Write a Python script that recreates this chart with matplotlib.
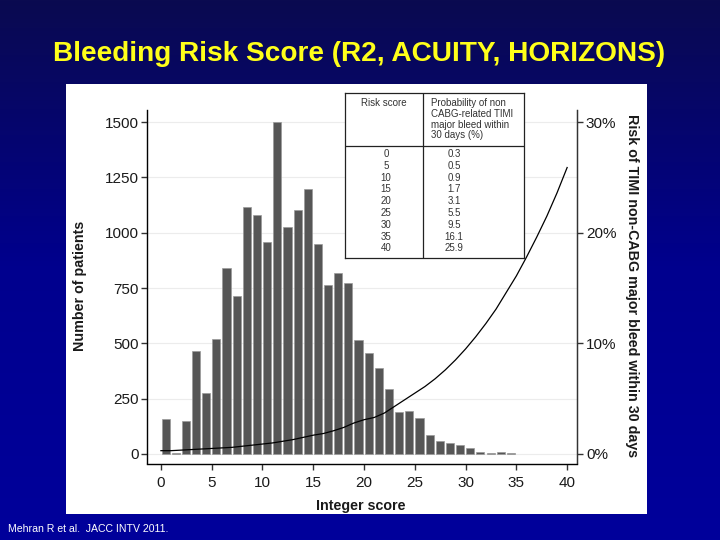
import numpy as np
import matplotlib
matplotlib.use("Agg")
import matplotlib.pyplot as plt
from matplotlib.patches import Rectangle

plt.rcParams['font.family'] = ['Liberation Sans', 'DejaVu Sans']

# ---- data ----
scores = list(range(35))
patients = [158, 6, 147, 467, 274, 520, 841, 713, 1117, 1079,
            957, 1500, 1024, 1103, 1199, 948, 765, 820, 775, 515,
            455, 389, 293, 190, 193, 162, 88, 58, 49, 40,
            28, 8, 4, 7, 4]

curve_x = list(range(41))
curve_risk = [0.3, 0.3, 0.35, 0.4, 0.45, 0.5, 0.55, 0.6, 0.7, 0.8,
              0.9, 1.0, 1.15, 1.3, 1.5, 1.7, 1.85, 2.1, 2.4, 2.8,
              3.1, 3.3, 3.7, 4.3, 4.9, 5.5, 6.1, 6.8, 7.6, 8.5,
              9.5, 10.6, 11.8, 13.1, 14.6, 16.1, 17.8, 19.6, 21.5, 23.6, 25.9]

table_scores = ['0', '5', '10', '15', '20', '25', '30', '35', '40']
table_prob = ['0.3', '0.5', '0.9', '1.7', '3.1', '5.5', '9.5', '16.1', '25.9']

W, H = 720, 540
def fx(x):
    return x / W
def fy(y):
    return 1 - y / H

fig = plt.figure(figsize=(7.2, 5.4), dpi=100)

# background gradient (dark navy at top -> brighter blue lower)
bg = fig.add_axes([0, 0, 1, 1], zorder=-10)
t = np.linspace(0, 1, 256)[:, None]
top = np.array([10, 10, 80]) / 255
mid = np.array([0, 0, 142]) / 255
bot = np.array([0, 0, 155]) / 255
grad = np.where(t < 0.5,
                top + (mid - top) * np.clip(t / 0.5, 0, 1),
                mid + (bot - mid) * np.clip((t - 0.5) / 0.5, 0, 1))
bg.imshow(grad.reshape(256, 1, 3), aspect='auto', extent=[0, 1, 0, 1])
bg.axis('off')

# white panel
fig.patches.append(Rectangle((fx(66), fy(514)), (647 - 66) / W, (514 - 84) / H,
                             transform=fig.transFigure, facecolor='white',
                             edgecolor='none', zorder=-5))

fig.text(fx(359.5), fy(61), 'Bleeding Risk Score (R2, ACUITY, HORIZONS)',
         color='#ffff1a', fontsize=20.2, fontweight='bold', ha='center', va='baseline')
fig.text(fx(8), fy(532), 'Mehran R et al.  JACC INTV 2011.', color='white',
         fontsize=7.6, ha='left', va='baseline')

# main axes
left, right, bottom, topy = 146.7, 577.3, 463.5, 110
ax = fig.add_axes([fx(left), fy(bottom), (right - left) / W, (bottom - topy) / H])
ax.set_facecolor('none')
ax.bar([s + 0.06 for s in scores], patients, width=0.8, align='edge',
       color='#565656', edgecolor='#9a9a9a', linewidth=0.5, zorder=2)
ax.set_xlim(-1.4, 41.0)
ax.set_ylim(-43, 1555)
ax.set_xticks(range(0, 41, 5))
ax.set_yticks([0, 250, 500, 750, 1000, 1250, 1500])
ax.yaxis.grid(True, color='#ececec', linewidth=0.8, zorder=0)
ax.set_axisbelow(True)
for side in ['left', 'bottom', 'right']:
    ax.spines[side].set_color('#333333')
    ax.spines[side].set_linewidth(1.0)
ax.spines['top'].set_visible(False)
ax.tick_params(axis='both', colors='#333333', labelcolor='#1a1a1a', length=4.2,
               width=1.0, labelsize=11)
ax.tick_params(axis='y', pad=1.5)
ax.tick_params(axis='x', pad=5)

ax2 = ax.twinx()
ax2.set_ylim(-43 / 50, 1555 / 50)
ax2.plot(curve_x, curve_risk, color='black', linewidth=0.9, zorder=3)
ax2.set_yticks([0, 10, 20, 30])
ax2.set_yticklabels(['0%', '10%', '20%', '30%'])
ax2.spines['top'].set_visible(False)
ax2.spines['right'].set_color('#333333')
ax2.tick_params(axis='y', colors='#333333', labelcolor='#1a1a1a', length=4.2,
                width=1.0, labelsize=11, pad=2)

fig.text(fx(80), fy(286), 'Number of patients', rotation=90, fontsize=10.3,
         fontweight='bold', ha='center', va='center', color='#1a1a1a')
fig.text(fx(361), fy(510), 'Integer score', fontsize=10.3, fontweight='bold',
         ha='center', va='baseline', color='#1a1a1a')
fig.text(fx(632), fy(286), 'Risk of TIMI non-CABG major bleed within 30 days',
         rotation=270, fontsize=10.3, fontweight='bold', ha='center', va='center',
         color='#1a1a1a')

# table inset
tx0, tx1, ty0, ty1 = 344.7, 524.3, 93, 258
tab = fig.add_axes([fx(tx0), fy(ty1), (tx1 - tx0) / W, (ty1 - ty0) / H], zorder=5)
tab.set_xlim(tx0, tx1)
tab.set_ylim(ty1, ty0)
tab.set_facecolor('white')
tab.set_xticks([])
tab.set_yticks([])
for sp in tab.spines.values():
    sp.set_color('#222222')
    sp.set_linewidth(0.9)
tab.axvline(422.7, color='#222222', linewidth=0.9)
tab.axhline(146.3, color='#222222', linewidth=0.9)
tab.text(384, 103, 'Risk score', fontsize=7, ha='center', va='center', color='#333333')
head = ['Probability of non', 'CABG-related TIMI', 'major bleed within', '30 days (%)']
for i, line in enumerate(head):
    tab.text(430.7, 103 + i * 10.8, line, fontsize=7, ha='left', va='center', color='#333333')
for i, (s, p) in enumerate(zip(table_scores, table_prob)):
    yy = 154 + i * 11.8
    tab.text(386, yy, s, fontsize=7, ha='center', va='center', color='#333333')
    tab.text(454, yy, p, fontsize=7, ha='center', va='center', color='#333333')

fig.savefig('out.png', dpi=100)
